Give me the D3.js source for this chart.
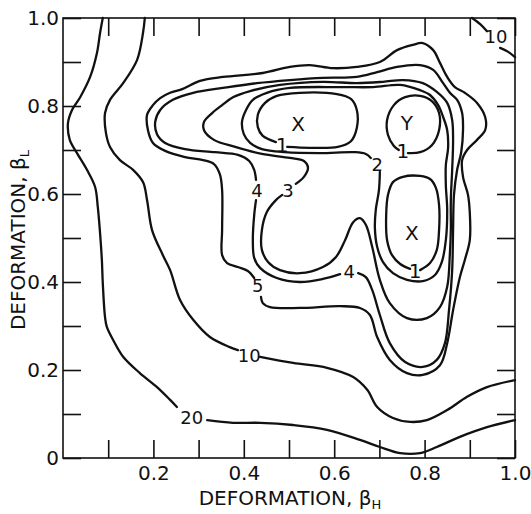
<!DOCTYPE html>
<html><head><meta charset="utf-8">
<script src="https://cdn.jsdelivr.net/npm/d3@7"></script>
<style>body{margin:0;background:#fff}svg{display:block}</style>
</head><body><svg id="chart" width="531" height="514"></svg>
<script>
// ---- data (beta_H, beta_L) ----
const xTickValues = [0.1,0.2,0.3,0.4,0.5,0.6,0.7,0.8,0.9,1.0];
const xLabelValues = [0.2,0.4,0.6,0.8,1.0];
const xTickLabels = ["0.2","0.4","0.6","0.8","1.0"];
const yTickValues = [0,0.1,0.2,0.3,0.4,0.5,0.6,0.7,0.8,0.9,1.0];
const yLabelValues = [0,0.2,0.4,0.6,0.8,1.0];
const yTickLabels = ["0","0.2","0.4","0.6","0.8","1.0"];

const contour20a = [[0.088,1.0],[0.082,0.966],[0.075,0.920],[0.060,0.866],[0.038,0.820],[0.020,0.791],[0.011,0.761],[0.015,0.723],[0.031,0.693],[0.053,0.655],[0.071,0.616],[0.077,0.570],[0.082,0.511],[0.086,0.450],[0.088,0.398],[0.093,0.320],[0.097,0.298],[0.111,0.268],[0.133,0.230],[0.170,0.193],[0.208,0.161],[0.237,0.132],[0.252,0.116]];
const contour20b = [[0.319,0.086],[0.376,0.080],[0.436,0.080],[0.509,0.075],[0.584,0.064],[0.657,0.041],[0.701,0.025],[0.746,0.011],[0.790,0.011],[0.827,0.025],[0.878,0.048],[0.938,0.070],[1.0,0.086]];

const contour10a = [[0.181,1.0],[0.177,0.966],[0.164,0.905],[0.133,0.852],[0.104,0.814],[0.093,0.784],[0.095,0.739],[0.104,0.707],[0.126,0.677],[0.155,0.655],[0.177,0.627],[0.186,0.586],[0.197,0.518],[0.221,0.461],[0.237,0.427],[0.259,0.359],[0.288,0.314],[0.325,0.275],[0.369,0.252],[0.387,0.245]];
const contour10b = [[0.436,0.230],[0.509,0.216],[0.584,0.205],[0.642,0.184],[0.673,0.155],[0.695,0.116],[0.730,0.091],[0.768,0.082],[0.805,0.086],[0.850,0.109],[0.894,0.139],[0.938,0.161],[1.0,0.177]];
const contour10cA = [[0.905,1.0],[0.923,0.986],[0.938,0.970]];
const contour10cB = [[0.967,0.932],[0.985,0.923],[1.0,0.911]];

const contour5 = [[0.423,0.409],[0.409,0.425],[0.387,0.434],[0.363,0.443],[0.352,0.461],[0.352,0.518],[0.352,0.609],[0.347,0.645],[0.334,0.668],[0.310,0.677],[0.270,0.684],[0.226,0.698],[0.199,0.716],[0.188,0.745],[0.186,0.780],[0.199,0.802],[0.215,0.818],[0.237,0.830],[0.265,0.839],[0.303,0.857],[0.354,0.866],[0.442,0.875],[0.502,0.889],[0.546,0.893],[0.597,0.886],[0.650,0.889],[0.701,0.900],[0.739,0.927],[0.774,0.939],[0.796,0.943],[0.819,0.927],[0.834,0.898],[0.850,0.866],[0.867,0.843],[0.889,0.830],[0.916,0.807],[0.934,0.775],[0.934,0.745],[0.916,0.723],[0.894,0.700],[0.883,0.677],[0.885,0.639],[0.896,0.598],[0.900,0.557],[0.900,0.495],[0.889,0.450],[0.878,0.411],[0.863,0.336],[0.850,0.261],[0.834,0.211],[0.796,0.189],[0.761,0.193],[0.723,0.223],[0.695,0.275],[0.679,0.325],[0.657,0.341],[0.613,0.345],[0.524,0.341],[0.458,0.343],[0.442,0.352],[0.438,0.366]];

const contour4a = [[0.653,0.420],[0.670,0.411],[0.684,0.382],[0.701,0.325],[0.723,0.261],[0.757,0.218],[0.796,0.207],[0.827,0.223],[0.845,0.261],[0.854,0.336],[0.861,0.427],[0.863,0.518],[0.865,0.598],[0.872,0.655],[0.881,0.695],[0.885,0.745],[0.883,0.784],[0.872,0.814],[0.856,0.830],[0.841,0.852],[0.819,0.882],[0.790,0.893],[0.739,0.889],[0.695,0.877],[0.650,0.866],[0.575,0.864],[0.502,0.859],[0.429,0.852],[0.354,0.841],[0.288,0.830],[0.243,0.814],[0.215,0.791],[0.204,0.764],[0.208,0.736],[0.226,0.716],[0.270,0.702],[0.336,0.695],[0.387,0.689],[0.412,0.675],[0.423,0.655],[0.427,0.632]];
const contour4b = [[0.427,0.586],[0.423,0.552],[0.420,0.495],[0.423,0.455],[0.436,0.432],[0.473,0.409],[0.524,0.400],[0.575,0.407],[0.613,0.418]];

const contour3 = [[0.515,0.623],[0.533,0.639],[0.542,0.659],[0.533,0.675],[0.502,0.682],[0.440,0.691],[0.381,0.707],[0.334,0.723],[0.312,0.745],[0.312,0.764],[0.330,0.784],[0.352,0.802],[0.376,0.820],[0.414,0.834],[0.480,0.848],[0.575,0.855],[0.650,0.852],[0.708,0.855],[0.752,0.859],[0.796,0.852],[0.827,0.832],[0.850,0.807],[0.861,0.768],[0.863,0.723],[0.861,0.655],[0.858,0.586],[0.858,0.518],[0.856,0.466],[0.850,0.389],[0.834,0.343],[0.805,0.318],[0.761,0.318],[0.723,0.352],[0.701,0.405],[0.684,0.480],[0.670,0.530],[0.657,0.545],[0.642,0.536],[0.624,0.495],[0.604,0.457],[0.575,0.434],[0.524,0.420],[0.480,0.427],[0.454,0.445],[0.440,0.473],[0.440,0.518],[0.451,0.559],[0.471,0.586],[0.485,0.598]];

const contour2 = [[0.701,0.650],[0.699,0.609],[0.692,0.564],[0.690,0.523],[0.695,0.480],[0.708,0.445],[0.730,0.420],[0.761,0.405],[0.796,0.402],[0.823,0.416],[0.838,0.445],[0.847,0.495],[0.850,0.564],[0.847,0.620],[0.847,0.666],[0.852,0.705],[0.850,0.745],[0.841,0.775],[0.830,0.802],[0.812,0.825],[0.790,0.836],[0.746,0.848],[0.686,0.843],[0.613,0.843],[0.502,0.841],[0.451,0.830],[0.420,0.814],[0.405,0.791],[0.396,0.764],[0.400,0.736],[0.414,0.716],[0.440,0.702],[0.491,0.695],[0.569,0.693],[0.646,0.695],[0.670,0.691],[0.681,0.682]];

const contour1X = [[0.496,0.707],[0.546,0.705],[0.608,0.707],[0.637,0.720],[0.650,0.750],[0.650,0.791],[0.637,0.816],[0.606,0.827],[0.524,0.830],[0.473,0.823],[0.447,0.807],[0.431,0.780],[0.431,0.752],[0.442,0.732],[0.471,0.718]];
const contour1Y = [[0.763,0.693],[0.790,0.695],[0.816,0.711],[0.832,0.745],[0.832,0.784],[0.816,0.811],[0.790,0.823],[0.757,0.820],[0.732,0.802],[0.717,0.768],[0.719,0.734],[0.732,0.709],[0.743,0.700]];
const contour1X2 = [[0.790,0.427],[0.812,0.443],[0.827,0.473],[0.832,0.518],[0.832,0.575],[0.825,0.614],[0.812,0.634],[0.790,0.641],[0.752,0.639],[0.730,0.627],[0.719,0.598],[0.715,0.552],[0.717,0.495],[0.728,0.461],[0.746,0.441],[0.768,0.430]];

const contourLabelText = ["1","1","1","2","3","4","4","5","10","20","10"];
const contourLabelPos = [[0.485,0.711],[0.752,0.698],[0.779,0.425],[0.695,0.668],[0.498,0.609],[0.429,0.609],[0.633,0.423],[0.431,0.391],[0.412,0.234],[0.285,0.093],[0.958,0.957]];
const markerText = ["X","Y","X"];
const markerPos = [[0.520,0.759],[0.761,0.761],[0.772,0.511]];

const xTitle = "DEFORMATION, β", xSub = "H";
const yTitle = "DEFORMATION, β", ySub = "L";

// ---- drawing ----
const svg = d3.select("#chart");
svg.append("rect").attr("width",531).attr("height",514).attr("fill","#fff");
const x = d3.scaleLinear().domain([0,1]).range([63,515]);
const y = d3.scaleLinear().domain([0,1]).range([458,18]);
const FONT = "DejaVu Sans, sans-serif";

function fmt(vals, labels){ return d => { const i = vals.findIndex(v => Math.abs(v-d) < 1e-6); return i >= 0 ? labels[i] : ""; }; }
function styleAxis(g){
  g.select(".domain").remove();
  g.selectAll(".tick line").attr("stroke","#111").attr("stroke-width",1.6);
  g.selectAll("text").attr("fill","#111");
  g.attr("font-family",FONT).attr("font-size",20);
}
svg.append("g").attr("transform","translate(0,458)")
  .call(d3.axisBottom(x).tickValues(xTickValues).tickSize(-18).tickPadding(8).tickFormat(fmt(xLabelValues,xTickLabels)))
  .call(styleAxis);
svg.append("g").attr("transform","translate(63,0)")
  .call(d3.axisLeft(y).tickValues(yTickValues).tickSize(-18).tickPadding(4).tickFormat(fmt(yLabelValues,yTickLabels)))
  .call(styleAxis);
svg.append("g").attr("transform","translate(0,18)")
  .call(d3.axisTop(x).tickValues(xTickValues).tickSize(-18).tickFormat(""))
  .call(styleAxis);
svg.append("g").attr("transform","translate(515,0)")
  .call(d3.axisRight(y).tickValues(yTickValues).tickSize(-18).tickFormat(""))
  .call(styleAxis);

svg.append("rect").attr("x",x(0)).attr("y",y(1)).attr("width",x(1)-x(0)).attr("height",y(0)-y(1))
  .attr("fill","none").attr("stroke","#111").attr("stroke-width",1.6);

const paths = [contour20a,contour20b,contour10a,contour10b,contour10cA,contour10cB,contour5,contour4a,contour4b,contour3,contour2,contour1X,contour1Y,contour1X2];
const line = d3.line().x(d=>x(d[0])).y(d=>y(d[1])).curve(d3.curveCatmullRom.alpha(0.5));
svg.append("g").selectAll("path").data(paths).join("path")
  .attr("d",line).attr("fill","none").attr("stroke","#111").attr("stroke-width",2.3)
  .attr("stroke-linejoin","round").attr("stroke-linecap","round");

svg.append("g").attr("font-family",FONT).attr("fill","#111")
  .selectAll("text").data(contourLabelText).join("text")
  .attr("x",(d,i)=>x(contourLabelPos[i][0])).attr("y",(d,i)=>y(contourLabelPos[i][1]))
  .attr("text-anchor","middle").attr("dominant-baseline","central")
  .attr("font-size",d=>d==="1"?20:18).text(d=>d);

svg.append("g").attr("font-family",FONT).attr("fill","#111")
  .selectAll("text").data(markerText).join("text")
  .attr("x",(d,i)=>x(markerPos[i][0])).attr("y",(d,i)=>y(markerPos[i][1]))
  .attr("text-anchor","middle").attr("dominant-baseline","central")
  .attr("font-size",20).text(d=>d);

const xt = svg.append("text").attr("x",(x(0)+x(1))/2+1).attr("y",505).attr("text-anchor","middle")
  .attr("font-family",FONT).attr("font-size",20).attr("fill","#111");
xt.append("tspan").text(xTitle);
xt.append("tspan").attr("font-size",13).attr("dy",4).text(xSub);

const yt = svg.append("text").attr("transform",`translate(25,${(y(0)+y(1))/2+2}) rotate(-90)`).attr("text-anchor","middle")
  .attr("font-family",FONT).attr("font-size",20).attr("fill","#111");
yt.append("tspan").text(yTitle);
yt.append("tspan").attr("font-size",13).attr("dy",4).text(ySub);
</script></body></html>
